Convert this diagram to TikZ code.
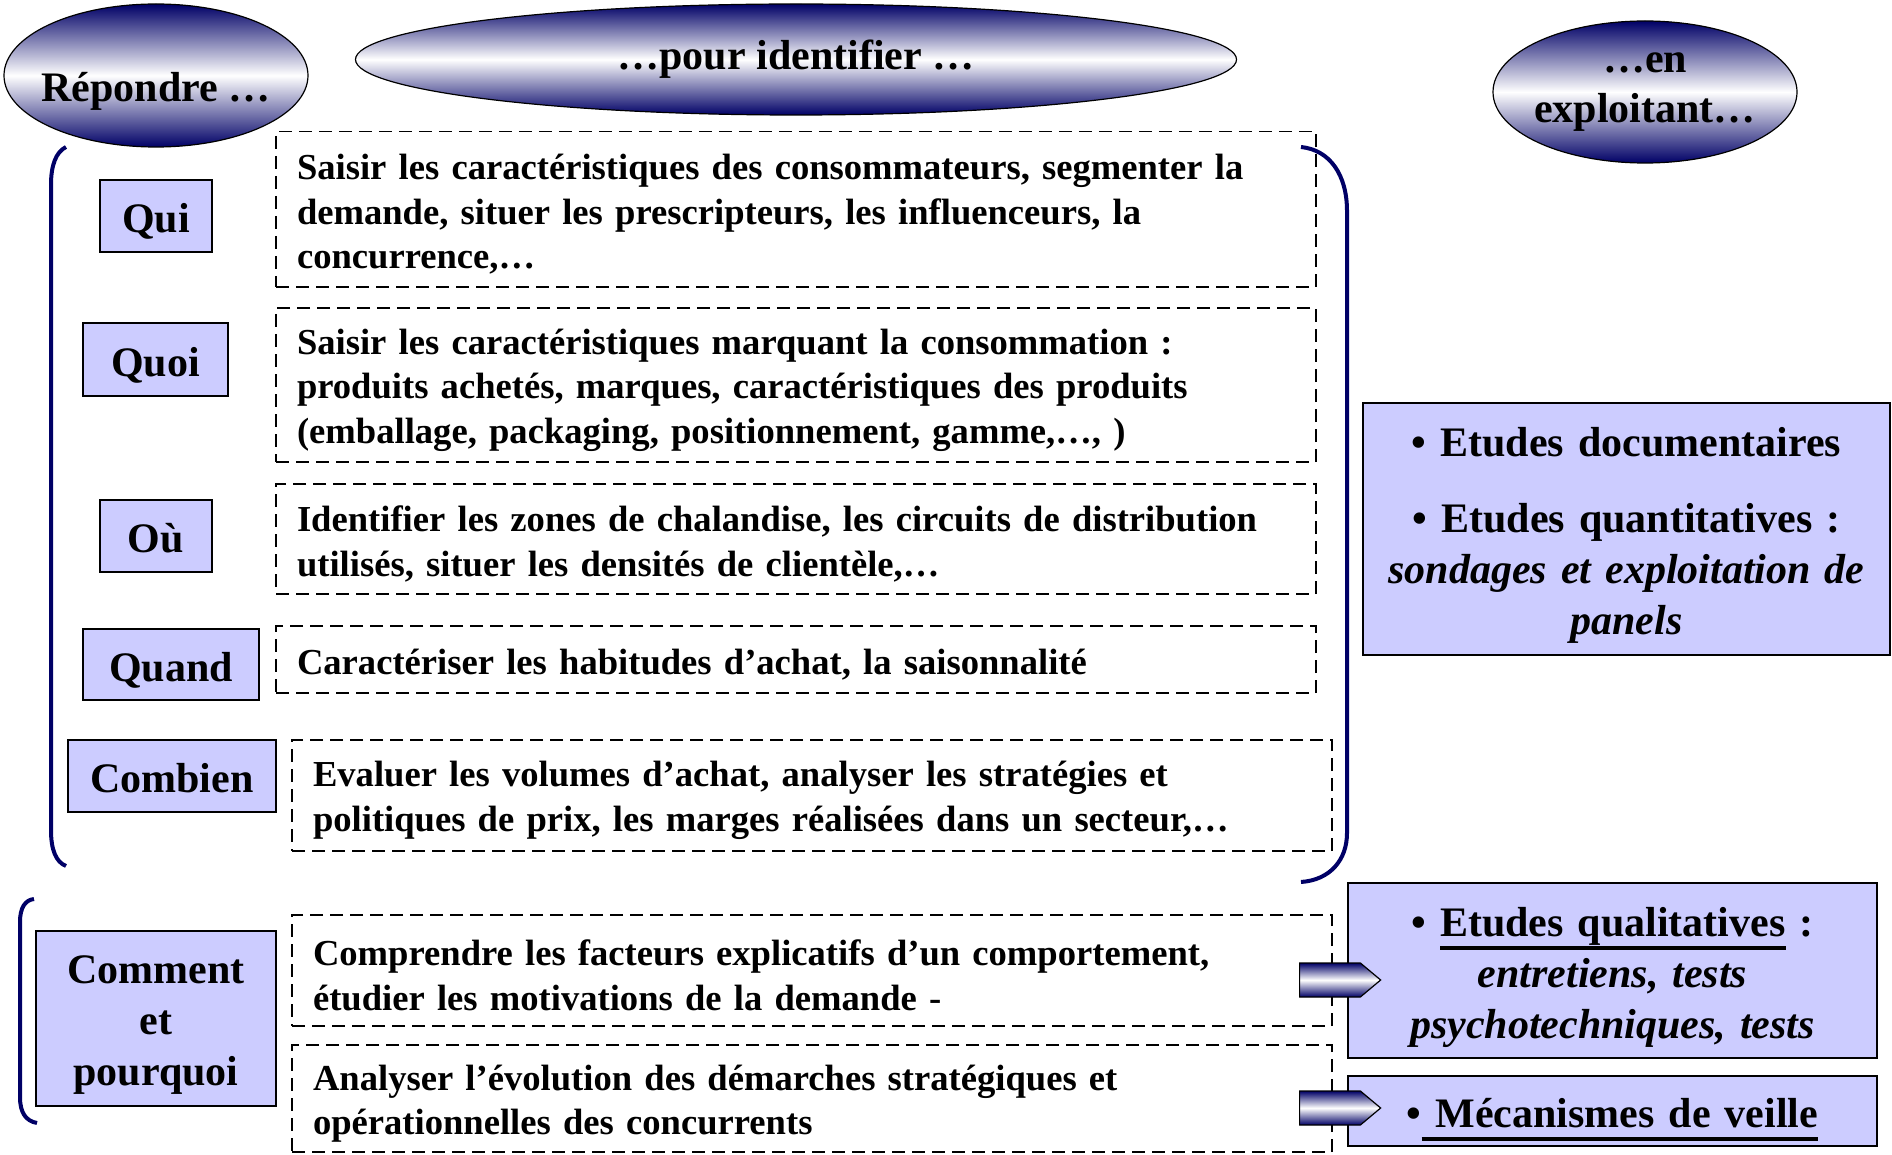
\documentclass[tikz,border=0pt]{standalone}
\usepackage{fontspec}
\setmainfont{Liberation Serif}
\usepackage{tikz}
\usetikzlibrary{shapes,arrows}
\definecolor{marine}{RGB}{0,0,102}
\definecolor{lavande}{RGB}{204,204,255}
\newcommand{\souligne}[1]{\setbox0=\hbox{#1}\rlap{\rule[-13.5pt]{\wd0}{3.5pt}}\box0\relax}
\newcommand{\etai}[1]{\rule{0pt}{#1}}
\tikzstyle{entete} = [draw, ellipse, line width=1.2pt, top color=marine,
    bottom color=marine, middle color=white, inner sep=0pt, align=center,
    font=\fontsize{42}{50.6}\selectfont\bfseries]
\tikzstyle{question} = [draw, fill=lavande, rectangle, line width=1.5pt,
    inner sep=0pt, align=center, font=\fontsize{42}{50.6}\selectfont\bfseries]
\tikzstyle{objectif} = [draw, rectangle, dash pattern=on 13pt off 7pt,
    line width=1.5pt, text width=998pt, inner xsep=21pt, minimum width=1040pt,
    align=left, font=\fontsize{36.6}{44.6}\selectfont\bfseries]
\tikzstyle{moyen} = [draw, fill=lavande, rectangle, line width=1.5pt,
    inner sep=0pt, text width=500pt, align=center,
    font=\fontsize{42}{51}\selectfont\bfseries]
\tikzstyle{fleche} = [draw, signal, signal to=east, signal pointer angle=80,
    line width=1.2pt, top color=marine, bottom color=marine, middle color=white,
    minimum width=81pt, minimum height=34pt, inner sep=0pt]
\tikzstyle{crochet} = [draw=marine, line width=4pt]

\begin{document}
\begin{tikzpicture}[x=1pt, y=-1pt, node distance=150pt]
    \useasboundingbox (0,0) rectangle (1892,1155);

    \node [entete, minimum width=304pt, minimum height=143pt,
            text height=52pt, text depth=0pt] (repondre) at (156,75.5) {\makebox[0pt]{Répondre …}};
    \node [entete, minimum width=881pt, minimum height=111pt] (identifier) at (796,59.5) {…pour identifier …};
    \node [entete, minimum width=304pt, minimum height=142pt] (exploitant) at (1645,92)
        {\makebox[0pt]{…en}\\\makebox[0pt]{exploitant…}};

    \node [objectif, minimum height=155.5pt] (saisir) at (796,209.25)
        {\etai{35.5pt}Saisir les caractéristiques des consommateurs, segmenter la\\
         demande, situer les prescripteurs, les influenceurs, la\\
         concurrence,…};
    \node [objectif, below of=saisir, node distance=175.75pt, minimum height=154pt] (marquant)
        {\etai{35.5pt}Saisir les caractéristiques marquant la consommation :\\
         produits achetés, marques, caractéristiques des produits\\
         (emballage, packaging, positionnement, gamme,…, )};
    \node [objectif, below of=marquant, node distance=154pt, minimum height=110pt] (zones)
        {\etai{35.5pt}Identifier les zones de chalandise, les circuits de distribution\\
         utilisés, situer les densités de clientèle,…};
    \node [objectif, below of=zones, node distance=120.5pt, minimum height=67pt] (habitudes)
        {\etai{35.5pt}Caractériser les habitudes d’achat, la saisonnalité};
    \node [objectif, minimum height=111pt] (volumes) at (812,795.5)
        {\etai{35.5pt}Evaluer les volumes d’achat, analyser les stratégies et\\
         politiques de prix, les marges réalisées dans un secteur,…};
    \node [objectif, below of=volumes, node distance=175pt, minimum height=111pt] (facteurs)
        {\etai{35.5pt}Comprendre les facteurs explicatifs d’un comportement,\\
         étudier les motivations de la demande -};
    \node [objectif, below of=facteurs, node distance=128pt, minimum height=107pt] (evolution)
        {\etai{35.5pt}Analyser l’évolution des démarches stratégiques et\\
         opérationnelles des concurrents};

    \node [question, minimum width=112pt, minimum height=72pt, text height=40pt, text depth=7pt] (qui) at (156,216) {Qui};
    \node [question, minimum width=145pt, minimum height=73pt, text height=40pt, text depth=7pt] (quoi) at (155.5,359.5) {Quoi};
    \node [question, minimum width=112pt, minimum height=72pt, text height=40pt, text depth=7pt] (ou) at (156,536) {Où};
    \node [question, minimum width=176pt, minimum height=71pt, text height=40pt, text depth=7pt] (quand) at (171,664.5) {Quand};
    \node [question, minimum width=208pt, minimum height=72pt, text height=40pt, text depth=7pt] (combien) at (172,776) {Combien};
    \node [question, minimum width=240pt, minimum height=175pt] (comment) at (156,1018.5)
        {\etai{41pt}Comment\\et\\pourquoi};

    \node [moyen, minimum width=527pt, minimum height=252pt] (documentaires) at (1626.5,529)
        {\etai{41pt}• Etudes documentaires\\[25pt]
         • Etudes quantitatives :\\
         \textit{sondages et exploitation de}\\
         \textit{panels}};
    \node [moyen, minimum width=529pt, minimum height=175pt] (qualitatives) at (1612.5,970.5)
        {\etai{43pt}• \souligne{Etudes qualitatives} :\\
         \textit{entretiens, tests}\\
         \textit{psychotechniques, tests}};
    \node [moyen, minimum width=529pt, minimum height=70pt] (veille) at (1612.5,1111)
        {\etai{46pt}•\souligne{\ Mécanismes de veille}};

    \node [fleche] (versqualitatives) at (1330,980) {};
    \node [fleche] (versveille) at (1330,1108) {};

    \draw [crochet] (66,147) .. controls (56,152) and (51,165) .. (51,185)
        -- (51,830) .. controls (51,850) and (56,862) .. (66,866);
    \draw [crochet] (1301,147) .. controls (1330,150) and (1347,175) .. (1347,211)
        -- (1347,833) .. controls (1347,860) and (1330,880) .. (1301,882);
    \draw [crochet] (34,899) .. controls (25,900) and (20,908) .. (20,922)
        -- (20,1097) .. controls (20,1113) and (26,1121) .. (37,1123);
\end{tikzpicture}
\end{document}
